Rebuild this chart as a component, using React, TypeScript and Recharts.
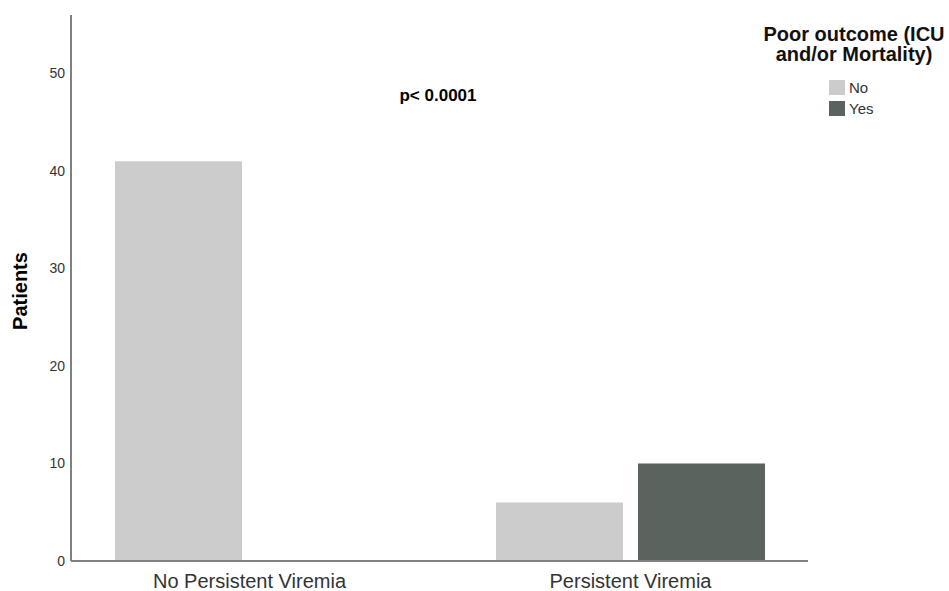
import { BarChart, Bar, XAxis, YAxis } from "recharts";

const categories = ["No Persistent Viremia", "Persistent Viremia"];
const noValues = [41, 6];
const yesValues = [0, 10];
const yTicks = [0, 10, 20, 30, 40, 50];
const seriesNames = ["No", "Yes"];
const seriesColors = ["#cccccc", "#5a635d"];

const data = categories.map((c, i) => ({ name: c, no: noValues[i], yes: yesValues[i] }));

const FONT = '"Liberation Sans", Arial, sans-serif';

export default function App() {
  return (
    <div
      style={{
        position: "absolute",
        top: 0,
        left: 0,
        width: 949,
        height: 591,
        background: "#fff",
        fontFamily: FONT,
      }}
    >
      <BarChart
        width={949}
        height={591}
        data={data}
        margin={{ top: 15, right: 141, bottom: 0, left: 0 }}
        barSize={127}
        barGap={15}
      >
        <XAxis
          dataKey="name"
          height={30}
          padding={{ left: -12, right: -13 }}
          tickLine={false}
          tickSize={0}
          tickMargin={13}
          axisLine={{ stroke: "#808080", strokeWidth: 2 }}
          tick={{ fill: "#333", fontSize: 20, fontFamily: FONT }}
        />
        <YAxis
          width={71}
          domain={[0, 56]}
          ticks={yTicks}
          tickLine={false}
          tickSize={0}
          tickMargin={6}
          axisLine={{ stroke: "#808080", strokeWidth: 2 }}
          tick={{ fill: "#333", fontSize: 14, fontFamily: FONT }}
          label={{
            content: () => (
              <text
                x={20}
                y={291}
                transform="rotate(-90 20 291)"
                textAnchor="middle"
                dominantBaseline="central"
                fontSize={20}
                fontWeight="bold"
                fontFamily={FONT}
                fill="#000"
              >
                Patients
              </text>
            ),
          }}
        />
        <Bar dataKey="no" name="No" fill={seriesColors[0]} isAnimationActive={false} />
        <Bar dataKey="yes" name="Yes" fill={seriesColors[1]} isAnimationActive={false} />
      </BarChart>

      <div
        style={{
          position: "absolute",
          left: 388,
          top: 86,
          width: 100,
          textAlign: "center",
          fontSize: 17,
          fontWeight: "bold",
          color: "#000",
          lineHeight: "20px",
        }}
      >
        p&lt; 0.0001
      </div>

      <div style={{ position: "absolute", left: 754, top: 24, width: 200 }}>
        <div
          style={{
            textAlign: "center",
            fontSize: 20,
            fontWeight: "bold",
            lineHeight: "20px",
            color: "#111",
          }}
        >
          Poor outcome (ICU
          <br />
          and/or Mortality)
        </div>
        <div style={{ position: "absolute", left: 75, top: 53 }}>
          {seriesNames.map((n, i) => (
            <div key={n} style={{ display: "flex", alignItems: "center", height: 21 }}>
              <div style={{ width: 16, height: 15, background: seriesColors[i], marginRight: 4 }} />
              <span style={{ fontSize: 15, color: "#333" }}>{n}</span>
            </div>
          ))}
        </div>
      </div>
    </div>
  );
}
